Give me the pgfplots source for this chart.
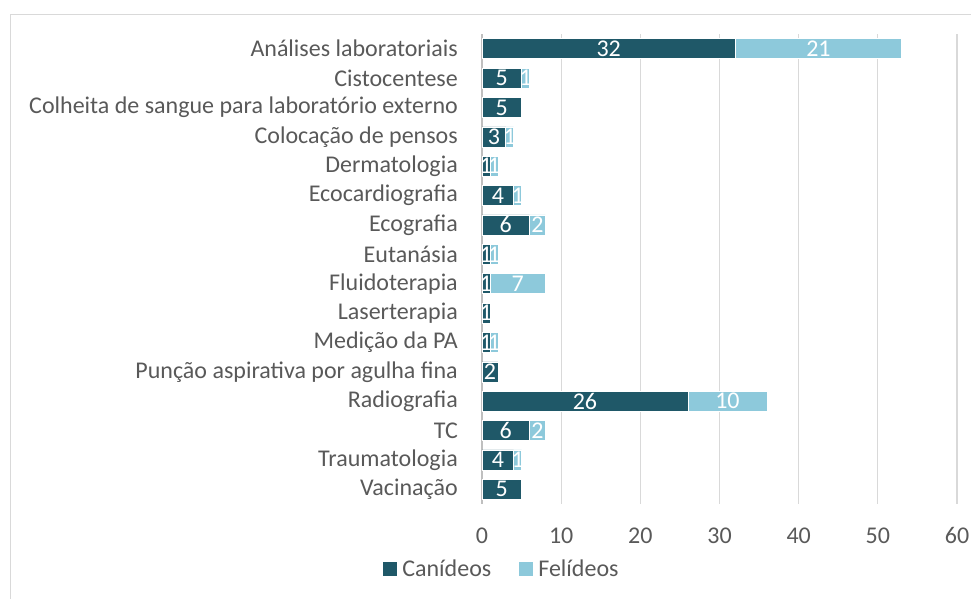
\documentclass[border=0pt]{standalone}
\usepackage{pgfplots}
\pgfplotsset{compat=1.18}
\usepackage{pgfplotstable}
\usepackage{fontspec}
\setmainfont{Carlito}

\definecolor{can}{HTML}{1F5868}
\definecolor{fel}{HTML}{8DC9DB}
\definecolor{txt}{HTML}{595959}
\definecolor{gridc}{HTML}{D9D9D9}
\definecolor{axl}{HTML}{BFBFBF}

\pgfplotstableread{
idx can fel
0 32 21
1 5 1
2 5 0
3 3 1
4 1 1
5 4 1
6 6 2
7 1 1
8 1 7
9 1 0
10 1 1
11 2 0
12 26 10
13 6 2
14 4 1
15 5 0
}\data

\newcommand{\lbl}{\fontsize{24}{28}\selectfont}

\begin{document}
\begin{tikzpicture}[x=1pt,y=1pt]
\path[use as bounding box] (0,0) rectangle (971,598);
\draw[gridc, line width=1pt] (10,-5) -- (10,583) -- (990,583);
\begin{axis}[
  at={(482pt,94pt)}, anchor=south west,
  scale only axis, width=475pt, height=470pt,
  xbar stacked, bar width=20pt,
  xmin=0, xmax=60, ymin=-0.5, ymax=15.5, y dir=reverse,
  xtick={0,10,...,60}, ytick={0,...,15},
  yticklabels={An\'alises laboratoriais, Cistocentese, Colheita de sangue para laborat\'orio externo, Coloca\c{c}\~ao de pensos, Dermatologia, Ecocardiografia, Ecografia, Eutan\'asia, Fluidoterapia, Laserterapia, Medi\c{c}\~ao da PA, Pun\c{c}\~ao aspirativa por agulha fina, Radiografia, TC, Traumatologia, Vacina\c{c}\~ao},
  xmajorgrids, grid style={gridc, line width=1.2pt},
  separate axis lines,
  axis x line*=bottom, axis y line*=left,
  x axis line style={draw=none},
  y axis line style={axl, line width=1.2pt},
  major tick length=0pt,
  /pgf/number format/assume math mode=true,
  tick label style={font=\lbl, text=txt},
  yticklabel style={anchor=east, inner sep=0pt, xshift=-24pt},
  xticklabel style={anchor=north, inner sep=0pt, yshift=-23.5pt},
  point meta=explicit,
  nodes near coords={\pgfmathfloatifflags{\pgfplotspointmeta}{0}{}{\pgfmathprintnumber{\pgfplotspointmeta}}},
  every node near coord/.append style={font=\lbl, text=white, anchor=center, inner sep=0pt},
  legend columns=2,
  legend style={at={(0.042,-0.138)}, anchor=center, draw=none, fill=none, font=\lbl, text=txt,
    /tikz/every odd column/.append style={column sep=3pt},
    /tikz/every even column/.append style={column sep=26pt}},
  legend image code/.code={\fill[#1,draw=none] (0pt,-7pt) rectangle (14pt,7pt);},
]
\addplot[fill=can, draw=white, line width=0.6pt] table[x=can, y=idx, meta=can] {\data};
\addplot[fill=fel, draw=white, line width=0.6pt] table[x=fel, y=idx, meta=fel] {\data};
\legend{Can\'ideos, Fel\'ideos}
\end{axis}
\end{tikzpicture}
\end{document}
